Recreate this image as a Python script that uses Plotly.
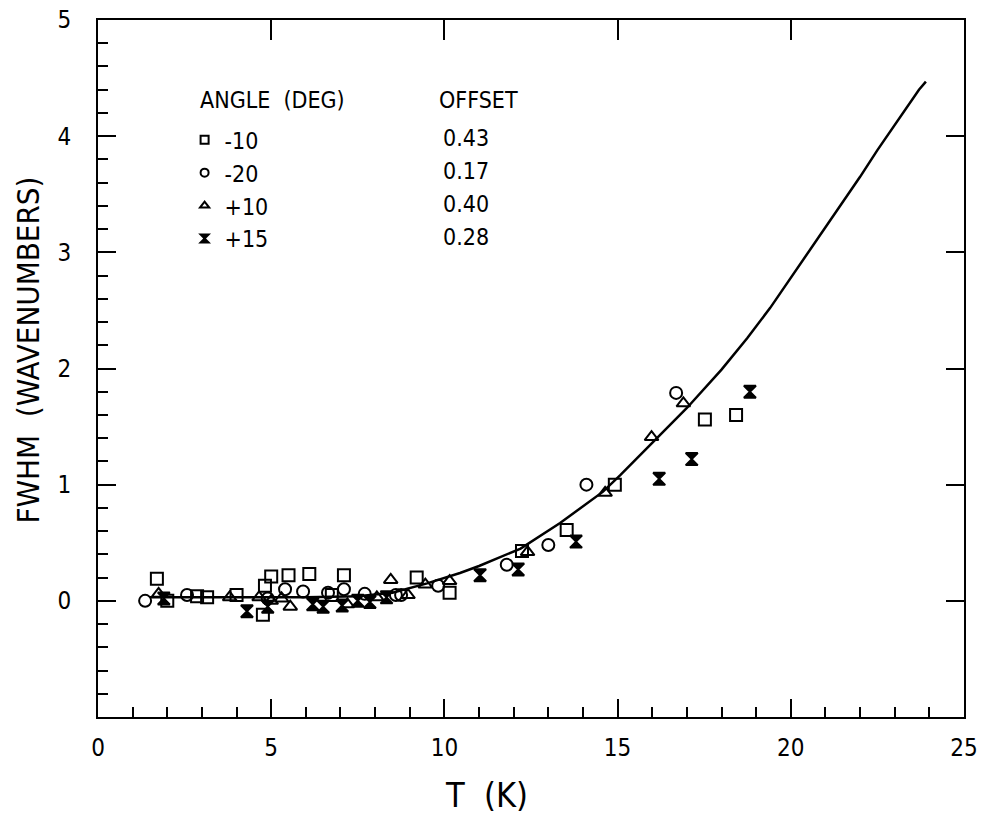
import plotly.graph_objects as go

# ---- data ----
sq_T = [1.7, 2.0, 2.86, 3.15, 4.0, 4.76, 4.82, 5.0, 5.5, 6.1, 6.75, 7.1, 9.2, 10.15, 12.24, 13.53, 14.92, 17.52, 18.42]
sq_W = [0.19, 0.0, 0.04, 0.03, 0.05, -0.12, 0.13, 0.21, 0.22, 0.23, 0.05, 0.22, 0.20, 0.07, 0.43, 0.61, 1.0, 1.56, 1.60]

ci_T = [1.36, 2.57, 4.9, 5.4, 5.92, 6.64, 7.1, 7.7, 8.6, 8.75, 9.82, 11.8, 13.0, 14.1, 16.69]
ci_W = [0.0, 0.05, 0.02, 0.10, 0.08, 0.07, 0.10, 0.06, 0.05, 0.05, 0.13, 0.31, 0.48, 1.0, 1.79]

tr_T = [1.75, 3.8, 4.65, 5.0, 5.3, 5.55, 7.2, 8.05, 8.45, 8.95, 9.45, 10.15, 12.4, 14.64, 15.98, 16.9]
tr_W = [0.06, 0.03, 0.03, 0.0, 0.02, -0.05, -0.03, 0.03, 0.18, 0.05, 0.14, 0.17, 0.42, 0.93, 1.41, 1.70]

hg_T = [1.9, 4.3, 4.9, 6.2, 6.5, 7.05, 7.5, 7.85, 8.33, 11.03, 12.13, 13.8, 16.2, 17.14, 18.82]
hg_W = [0.02, -0.09, -0.05, -0.03, -0.05, -0.04, 0.0, -0.01, 0.03, 0.22, 0.27, 0.51, 1.05, 1.22, 1.80]

fit_T = [1.5, 4.0, 6.0, 7.5, 8.5, 9.5, 10.45, 11.0, 12.2, 13.34, 14.58, 15.07, 16.02, 17.0, 18.0, 18.74, 19.4, 20.0, 20.7, 21.42, 22.0, 22.5, 23.1, 23.7, 23.9]
fit_W = [0.03, 0.03, 0.03, 0.04, 0.07, 0.15, 0.24, 0.30, 0.45, 0.67, 0.94, 1.08, 1.37, 1.66, 1.99, 2.26, 2.52, 2.78, 3.08, 3.39, 3.65, 3.88, 4.14, 4.40, 4.47]

angles = ["-10", "-20", "+10", "+15"]
offsets = ["0.43", "0.17", "0.40", "0.28"]
symbols = ["square-open", "circle-open", "triangle-up-open", "hourglass"]

x_ticks = [0, 5, 10, 15, 20, 25]
y_ticks = [0, 1, 2, 3, 4, 5]

FONT = "DejaVu Sans Condensed, Liberation Sans Narrow, DejaVu Sans, sans-serif"

fig = go.Figure()

fig.add_trace(go.Scatter(x=fit_T, y=fit_W, mode="lines", line=dict(color="black", width=2.5),
                         showlegend=False))

series = [(sq_T, sq_W), (ci_T, ci_W), (tr_T, tr_W), (hg_T, hg_W)]
for (tx, wy), sym in zip(series, symbols):
    fig.add_trace(go.Scatter(x=tx, y=wy, mode="markers", showlegend=False,
                             marker=dict(symbol=sym, size=12, color="black",
                                         line=dict(color="black", width=2))))

# legend-only entries
for ang, sym in zip(angles, symbols):
    fig.add_trace(go.Scatter(x=[None], y=[None], mode="markers", name=ang,
                             marker=dict(symbol=sym, size=8, color="black",
                                         line=dict(color="black", width=2))))

fig.add_trace(go.Scatter(x=[None], y=[None], xaxis="x2", yaxis="y2", showlegend=False))

fig.update_layout(
    width=982, height=816,
    margin=dict(l=98, r=18, t=20, b=99),
    paper_bgcolor="white", plot_bgcolor="white",
    font=dict(family=FONT, color="black", size=22),
    showlegend=True,
    legend=dict(x=0.100, y=0.859, xanchor="left", yanchor="top",
                bgcolor="rgba(0,0,0,0)", font=dict(size=23, family=FONT),
                tracegroupgap=0, itemwidth=30),
    xaxis=dict(range=[0, 25], tickvals=x_ticks, ticktext=[str(v) for v in x_ticks],
               showgrid=False, zeroline=False, showline=True, linecolor="black", linewidth=2,
               ticks="inside", ticklen=18, tickwidth=1.5, tickcolor="black", automargin=False,
               minor=dict(dtick=1, ticks="inside", ticklen=10, tickwidth=1.5, tickcolor="black"),
               tickfont=dict(size=24), ticklabelstandoff=8),
    yaxis=dict(range=[-1, 5], tickvals=y_ticks, ticktext=[str(v) for v in y_ticks],
               showgrid=False, zeroline=False, showline=True, linecolor="black", linewidth=2,
               ticks="inside", ticklen=18, tickwidth=1.5, tickcolor="black", automargin=False,
               minor=dict(dtick=0.2, ticks="inside", ticklen=10, tickwidth=1.5, tickcolor="black"),
               tickfont=dict(size=24), ticklabelstandoff=20),
    xaxis2=dict(range=[0, 25], overlaying="x", side="top", tickvals=[5, 10, 15, 20],
                showticklabels=False, showgrid=False, zeroline=False, showline=True, automargin=False,
                linecolor="black", linewidth=2, ticks="inside", ticklen=20, tickwidth=1.5,
                tickcolor="black"),
    yaxis2=dict(range=[-1, 5], overlaying="y", side="right", tickvals=[-1, 0, 1, 2, 3, 4, 5],
                showticklabels=False, showgrid=False, zeroline=False, showline=True, automargin=False,
                linecolor="black", linewidth=2, ticks="inside", ticklen=18, tickwidth=1.5,
                tickcolor="black"),
)

# axis titles
fig.add_annotation(xref="paper", yref="paper", x=0.449, y=-0.112, xanchor="center", yanchor="middle",
                   text="T  (K)", showarrow=False, font=dict(size=34, family=FONT))
fig.add_annotation(xref="paper", yref="paper", x=-0.081, y=0.527, xanchor="center", yanchor="middle",
                   text="FWHM  (WAVENUMBERS)", textangle=-90, showarrow=False,
                   font=dict(size=31, family=FONT))

# legend header
fig.add_annotation(xref="paper", yref="paper", x=0.116, y=0.907, xanchor="left", yanchor="top",
                   text="ANGLE  (DEG)", showarrow=False, font=dict(size=23, family=FONT))

# offset column
fig.add_annotation(xref="paper", yref="paper", x=0.391, y=0.907, xanchor="left", yanchor="top",
                   text="OFFSET", showarrow=False, font=dict(size=23, family=FONT))
for i, off in enumerate(offsets):
    fig.add_annotation(xref="paper", yref="paper", x=0.396, y=0.852 - i * 0.0473,
                       xanchor="left", yanchor="top", text=off, showarrow=False,
                       font=dict(size=23, family=FONT))

fig.write_html("out.html", config={"displayModeBar": False},
               post_script="document.body.style.margin='0px';document.body.style.overflow='hidden';")
